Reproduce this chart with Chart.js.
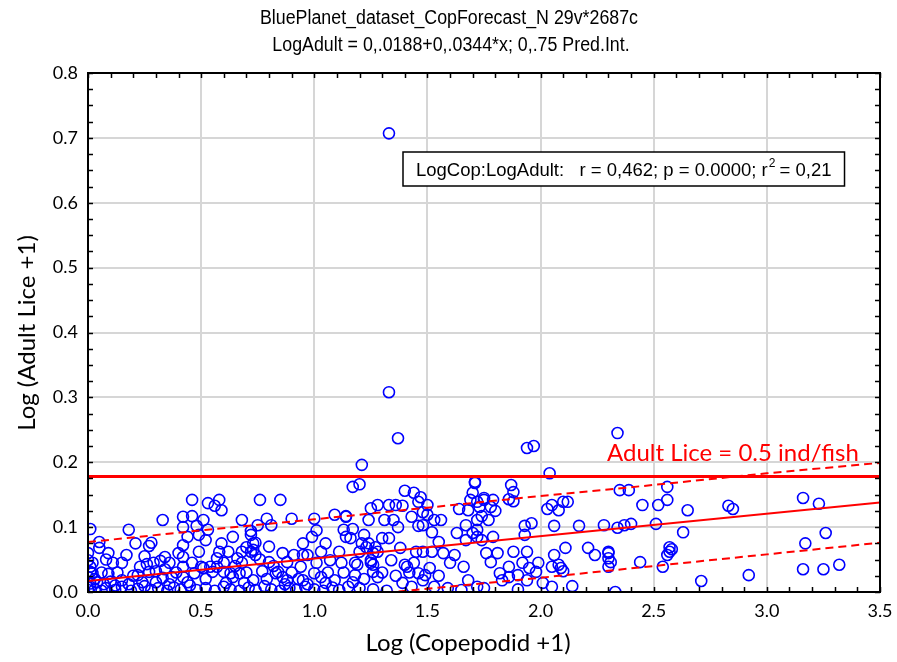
<!DOCTYPE html>
<html>
<head>
<meta charset="utf-8">
<script src="https://cdn.jsdelivr.net/npm/chart.js@4"></script>
<style>
  html, body { margin: 0; padding: 0; background: #fff; }
  #wrap { width: 897px; height: 662px; }
</style>
</head>
<body>
<div id="wrap"><canvas id="chart" width="897" height="662"></canvas></div>
<script>
// ---- data ----
const copX = [
  1.33, 1.33, 1.37, 1.21, 1.17, 1.20, 1.94, 1.97, 2.34, 2.04,
  0.01, 0.46, 0.53, 0.56, 0.33, 0.18, 0.42, 0.46, 0.51, 0.42, 0.48, 0.53, 0.44, 0.49, 0.52,
  0.05, 0.05, 0.09, 0.21, 0.27, 0.28, 0.17, 0.42, 0.49, 0.42, 0.34, 0.11, 0.00, 0.01, 0.02,
  0.09, 0.15, 0.23, 0.26, 0.29, 0.32, 0.27, 0.30, 0.34, 0.22, 0.37, 0.42, 0.50, 0.54, 0.42,
  0.47, 0.01, 0.04, 0.00, 0.01, 0.00, 0.01,
  0.58, 0.59, 0.76, 0.85, 0.68, 0.75, 0.72, 0.79, 0.81, 0.90, 1.00, 1.09, 1.14, 0.99, 0.59,
  0.58, 0.73, 0.70, 0.68, 0.72, 0.74, 0.66, 0.68, 1.05, 1.03, 1.07, 1.11, 1.12, 0.88, 0.91,
  0.95, 0.97, 0.94, 0.80, 0.77, 0.83, 0.86, 0.88, 0.57, 0.63, 0.67, 0.61, 0.69, 1.00, 1.03,
  0.95, 1.05, 1.13, 1.14, 0.72, 0.74, 0.73, 0.84, 0.64, 0.55, 0.60, 0.51,
  1.40, 1.44, 1.47, 1.46, 1.50, 1.71, 1.70, 1.69, 1.72, 1.25, 1.28, 1.33, 1.36, 1.39, 1.43,
  1.48, 1.50, 1.53, 1.56, 1.64, 1.68, 1.24, 1.31, 1.35, 1.37, 1.46, 1.48, 1.52, 1.14, 1.17,
  1.16, 1.22, 1.24, 1.30, 1.33, 1.20, 1.27, 1.28, 1.38, 1.45, 1.48, 1.52, 1.57, 1.62, 1.67,
  1.70, 1.63, 1.67, 1.72, 1.72, 1.55, 1.18, 1.18, 1.25, 1.26, 1.28, 1.34, 1.40, 1.41, 1.44,
  1.46, 1.49, 1.51, 1.48, 1.66, 1.68, 1.39, 1.25, 1.26, 1.19, 1.23, 1.26, 1.21,
  1.87, 1.88, 1.86, 1.88, 1.75, 1.79, 1.73, 1.78, 1.80, 1.74, 1.77, 2.03, 2.05, 2.08, 2.10,
  2.12, 1.93, 1.96, 1.93, 2.06, 2.17, 2.28, 1.72, 1.74, 1.79, 1.76, 1.81, 1.78, 1.88, 1.94,
  2.06, 2.11, 2.21, 2.24, 1.86, 1.92, 1.95, 1.99, 1.98, 2.05, 2.08, 2.09, 2.10, 2.30, 2.30,
  1.82, 1.86, 1.90, 1.94, 2.01, 2.14, 1.83, 1.71, 1.75,
  2.35, 2.39, 2.56, 2.45, 2.52, 2.56, 2.65, 2.83, 2.85, 2.34, 2.37, 2.40, 2.51, 2.63, 2.30,
  2.31, 2.44, 2.54, 2.57, 2.58, 2.56, 2.57, 2.71, 2.30,
  3.16, 3.23, 3.26, 3.17, 2.92, 3.16, 3.25, 3.32,
  0.03, 0.06, 0.08, 0.12, 0.15, 0.19, 0.22, 0.25, 0.28, 0.31, 0.35, 0.38, 0.41, 0.45, 0.48,
  0.52, 0.56, 0.60, 0.63, 0.67, 0.71, 0.74, 0.78, 0.81, 0.85, 0.89, 0.92, 0.96, 1.00, 1.04,
  1.08, 1.11, 1.15, 1.20, 1.26, 1.32, 1.43, 1.53, 1.59, 1.65, 1.72, 1.75, 1.90, 2.05, 2.33,
  0.02, 0.00, 0.03, 0.06, 0.07, 0.10, 0.13, 0.12, 0.18, 0.20, 0.24, 0.30, 0.33, 0.36, 0.39,
  0.44, 0.46, 0.52, 0.57, 0.60, 0.62, 0.65, 0.70, 0.73, 0.76, 0.79, 0.82, 0.87, 0.90, 0.93,
  0.97, 1.01, 1.06, 1.09, 1.13, 1.17, 1.22, 1.30, 1.36, 1.42, 1.55, 1.60, 0.40, 0.36, 0.25,
  0.15, 0.08, 0.64, 0.80, 0.86, 0.95, 1.01
];
const adultY = [
  0.707, 0.308, 0.237, 0.196, 0.162, 0.166, 0.222, 0.225, 0.245, 0.183,
  0.097, 0.142, 0.137, 0.133, 0.111, 0.096, 0.116, 0.117, 0.111, 0.100, 0.102, 0.096, 0.085, 0.088, 0.080,
  0.077, 0.068, 0.060, 0.075, 0.071, 0.076, 0.057, 0.072, 0.062, 0.054, 0.054, 0.045, 0.049, 0.039, 0.029,
  0.028, 0.018, 0.039, 0.043, 0.045, 0.048, 0.031, 0.032, 0.035, 0.026, 0.023, 0.039, 0.039, 0.039, 0.023,
  0.029, 0.013, 0.015, 0.023, 0.031, 0.003, 0.008,
  0.142, 0.126, 0.142, 0.142, 0.111, 0.103, 0.094, 0.113, 0.103, 0.113, 0.113, 0.119, 0.117, 0.085, 0.075,
  0.062, 0.075, 0.069, 0.062, 0.062, 0.057, 0.052, 0.045, 0.075, 0.062, 0.049, 0.062, 0.045, 0.046, 0.057,
  0.057, 0.057, 0.039, 0.046, 0.032, 0.029, 0.023, 0.018, 0.039, 0.029, 0.029, 0.014, 0.014, 0.029, 0.023,
  0.018, 0.014, 0.096, 0.085, 0.088, 0.076, 0.065, 0.031, 0.023, 0.031, 0.031, 0.037,
  0.156, 0.153, 0.146, 0.139, 0.134, 0.168, 0.153, 0.142, 0.139, 0.129, 0.134, 0.134, 0.134, 0.133, 0.116,
  0.123, 0.119, 0.111, 0.111, 0.128, 0.126, 0.111, 0.111, 0.111, 0.100, 0.102, 0.103, 0.092, 0.116, 0.097,
  0.083, 0.088, 0.075, 0.083, 0.083, 0.062, 0.069, 0.062, 0.068, 0.062, 0.062, 0.062, 0.060, 0.057, 0.080,
  0.091, 0.091, 0.103, 0.111, 0.096, 0.077, 0.045, 0.026, 0.045, 0.031, 0.023, 0.049, 0.042, 0.039, 0.045,
  0.029, 0.026, 0.037, 0.018, 0.039, 0.018, 0.014, 0.049, 0.042, 0.042, 0.069, 0.060, 0.075,
  0.165, 0.154, 0.143, 0.140, 0.142, 0.142, 0.131, 0.131, 0.125, 0.117, 0.111, 0.128, 0.134, 0.126, 0.139,
  0.139, 0.102, 0.106, 0.088, 0.102, 0.102, 0.103, 0.085, 0.080, 0.085, 0.060, 0.060, 0.046, 0.062, 0.062,
  0.057, 0.068, 0.068, 0.057, 0.039, 0.045, 0.037, 0.045, 0.031, 0.039, 0.042, 0.037, 0.032, 0.039, 0.052,
  0.029, 0.023, 0.026, 0.018, 0.014, 0.009, 0.018, 0.170, 0.145,
  0.157, 0.157, 0.162, 0.134, 0.134, 0.142, 0.126, 0.133, 0.128, 0.099, 0.103, 0.105, 0.105, 0.092, 0.062,
  0.046, 0.046, 0.039, 0.069, 0.066, 0.057, 0.062, 0.017, 0.060,
  0.145, 0.136, 0.091, 0.075, 0.026, 0.035, 0.035, 0.042,
  0.004, 0.002, 0.006, 0.003, 0.008, 0.002, 0.005, 0.009, 0.003, 0.006, 0.002, 0.007, 0.004, 0.010, 0.003,
  0.006, 0.002, 0.008, 0.004, 0.002, 0.007, 0.003, 0.009, 0.004, 0.002, 0.006, 0.003, 0.008, 0.004, 0.002,
  0.007, 0.003, 0.008, 0.006, 0.004, 0.002, 0.008, 0.008, 0.006, 0.003, 0.008, 0.006, 0.004, 0.008, 0.000,
  0.045, 0.060, 0.020, 0.030, 0.012, 0.016, 0.030, 0.010, 0.012, 0.025, 0.015, 0.015, 0.022, 0.012, 0.030,
  0.015, 0.045, 0.020, 0.052, 0.045, 0.062, 0.040, 0.030, 0.018, 0.050, 0.020, 0.040, 0.012, 0.030, 0.020,
  0.012, 0.045, 0.030, 0.018, 0.030, 0.015, 0.020, 0.030, 0.025, 0.030, 0.025, 0.045, 0.060, 0.045, 0.055,
  0.045, 0.050, 0.085, 0.070, 0.060, 0.075, 0.095
];

// regression line and 0.75 prediction interval
const fitX = [0, 3.5];
const fitY = [0.017, 0.138];
const bandX = [0, 0.5, 1.0, 1.5, 2.0, 2.5, 3.0, 3.5];
const bandUpper = [0.077, 0.095, 0.112, 0.130, 0.148, 0.165, 0.183, 0.199];
const bandLower = [-0.045, -0.028, -0.011, 0.005, 0.022, 0.040, 0.058, 0.076];

// threshold: Adult Lice = 0.5 ind/fish
const limitX = [0, 3.5];
const limitY = [0.178, 0.178];

const xTicks = [0, 0.5, 1.0, 1.5, 2.0, 2.5, 3.0, 3.5];
const yTicks = [0, 0.1, 0.2, 0.3, 0.4, 0.5, 0.6, 0.7, 0.8];

const titleLines = [
  'BluePlanet_dataset_CopForecast_N 29v*2687c',
  'LogAdult = 0,.0188+0,.0344*x; 0,.75 Pred.Int.'
];
const statsText = 'LogCop:LogAdult:   r = 0,462; p = 0.0000; r';
const statsTail = ' = 0,21';
const limitLabel = 'Adult Lice = 0.5 ind/fish';
const xTitle = 'Log (Copepodid +1)';
const yTitle = 'Log (Adult Lice +1)';

const pair = (xs, ys) => xs.map((x, i) => ({ x: x, y: ys[i] }));

const RED = '#ff0000';
const BLUE = '#0000ff';
const TICK_FONT = 'Lato, "Open Sans", sans-serif';
const ARIAL = '"Liberation Sans", Arial, sans-serif';

// frame, inner ticks and the texts
const decorPlugin = {
  id: 'decor',
  afterDatasetsDraw(chart) {
    const ctx = chart.ctx;
    const a = chart.chartArea;
    const xs = chart.scales.x, ys = chart.scales.y;
    ctx.save();

    // ticks pointing inward, every 0.1 on x and 0.025 on y
    ctx.strokeStyle = '#000';
    ctx.lineWidth = 1.5;
    ctx.beginPath();
    for (let k = 0; k <= 35; k++) {
      const px = Math.round(xs.getPixelForValue(k / 10)) + 0.5;
      ctx.moveTo(px, a.bottom); ctx.lineTo(px, a.bottom - 5);
      ctx.moveTo(px, a.top); ctx.lineTo(px, a.top + 5);
    }
    for (let k = 0; k <= 32; k++) {
      const py = Math.round(ys.getPixelForValue(k * 0.025)) + 0.5;
      ctx.moveTo(a.left, py); ctx.lineTo(a.left + 5, py);
      ctx.moveTo(a.right, py); ctx.lineTo(a.right - 5, py);
    }
    ctx.stroke();

    // plot frame
    ctx.lineWidth = 2;
    ctx.strokeRect(a.left, a.top, a.right - a.left, a.bottom - a.top);

    // limit label
    ctx.fillStyle = RED;
    ctx.font = '24px ' + TICK_FONT;
    ctx.textAlign = 'left';
    ctx.textBaseline = 'alphabetic';
    ctx.fillText(limitLabel, 607, 461);

    // stats box
    const big = '18.5px ' + ARIAL, small = '12px ' + ARIAL;
    ctx.font = big;
    const w1 = ctx.measureText(statsText).width;
    const w2 = ctx.measureText(statsTail).width;
    ctx.font = small;
    const wSup = ctx.measureText('2').width;
    const boxX = 403, boxY = 152, padX = 13;
    const boxW = w1 + wSup + w2 + padX * 2, boxH = 34;
    ctx.fillStyle = '#fff';
    ctx.fillRect(boxX, boxY, boxW, boxH);
    ctx.strokeStyle = '#000';
    ctx.lineWidth = 1.5;
    ctx.strokeRect(boxX, boxY, boxW, boxH);
    ctx.fillStyle = '#000';
    ctx.font = big;
    ctx.fillText(statsText, boxX + padX, 176);
    ctx.font = small;
    ctx.fillText('2', boxX + padX + w1 + 1, 167);
    ctx.font = big;
    ctx.fillText(statsTail, boxX + padX + w1 + wSup, 176);

    // titles, condensed like the original narrow face
    ctx.textAlign = 'center';
    ctx.textBaseline = 'middle';
    ctx.font = '20px ' + ARIAL;
    [[titleLines[0], 449, 18], [titleLines[1], 451, 45]].forEach(([t, cx, cy]) => {
      ctx.save();
      ctx.translate(cx, cy);
      ctx.scale(0.89, 1);
      ctx.fillText(t, 0, 0);
      ctx.restore();
    });

    // axis titles
    ctx.font = '24px ' + TICK_FONT;
    ctx.fillText(xTitle, 468, 643);
    ctx.save();
    ctx.translate(27, 333);
    ctx.rotate(-Math.PI / 2);
    ctx.fillText(yTitle, 0, 0);
    ctx.restore();

    ctx.restore();
  }
};

new Chart(document.getElementById('chart'), {
  type: 'scatter',
  data: {
    datasets: [
      {
        data: pair(limitX, limitY),
        showLine: true, borderColor: RED, borderWidth: 3,
        pointRadius: 0, clip: 0, order: 1
      },
      {
        data: pair(fitX, fitY),
        showLine: true, borderColor: RED, borderWidth: 2,
        pointRadius: 0, clip: 0, order: 1
      },
      {
        data: pair(bandX, bandUpper),
        showLine: true, borderColor: RED, borderWidth: 2, borderDash: [8, 5],
        pointRadius: 0, clip: 0, order: 1
      },
      {
        data: pair(bandX, bandLower),
        showLine: true, borderColor: RED, borderWidth: 2, borderDash: [8, 5],
        pointRadius: 0, clip: 0, order: 1
      },
      {
        data: pair(copX, adultY),
        showLine: false,
        pointStyle: 'circle', pointRadius: 5.5,
        borderColor: BLUE, borderWidth: 1.6,
        backgroundColor: 'rgba(0,0,0,0)',
        clip: 0, order: 2
      }
    ]
  },
  options: {
    responsive: false,
    animation: false,
    layout: { padding: { left: 0, right: 17, top: 73, bottom: 0 } },
    plugins: {
      legend: { display: false },
      tooltip: { enabled: false },
      title: { display: false }
    },
    scales: {
      x: {
        type: 'linear', min: 0, max: 3.5,
        afterBuildTicks: s => { s.ticks = xTicks.map(v => ({ value: v })); },
        afterFit: s => { s.height = 70; s.paddingLeft = 0; s.paddingRight = 0; },
        ticks: {
          color: '#000', padding: 8,
          font: { family: TICK_FONT, size: 18 },
          callback: v => Number(v).toFixed(1)
        },
        grid: { color: '#d6d6d6', lineWidth: 2, drawTicks: false },
        border: { display: false }
      },
      y: {
        type: 'linear', min: 0, max: 0.8,
        afterBuildTicks: s => { s.ticks = yTicks.map(v => ({ value: v })); },
        afterFit: s => { s.width = 88; s.paddingTop = 0; s.paddingBottom = 0; },
        ticks: {
          color: '#000', padding: 10,
          font: { family: TICK_FONT, size: 18 },
          callback: v => Number(v).toFixed(1)
        },
        grid: { color: '#d6d6d6', lineWidth: 2, drawTicks: false },
        border: { display: false }
      }
    }
  },
  plugins: [decorPlugin]
});
</script>
</body>
</html>
